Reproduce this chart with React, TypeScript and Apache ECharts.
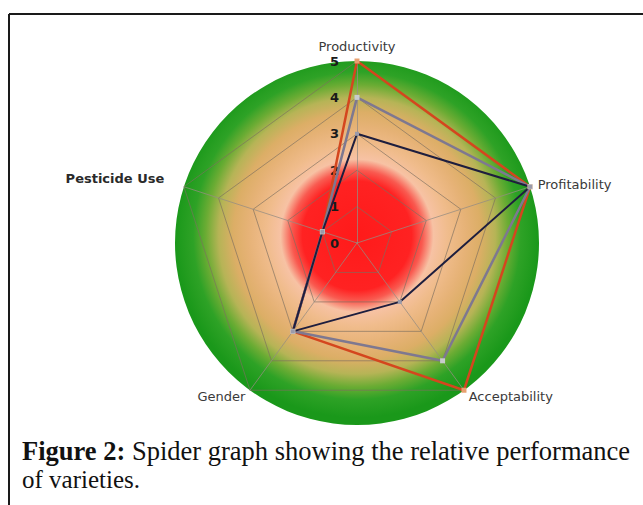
import React, { useEffect, useRef } from "react";
import * as echarts from "echarts";

const indicators = ["Productivity", "Pesticide Use", "Gender", "Acceptability", "Profitability"];
const maxValue = 5;
const seriesNames = ["Variety A", "Variety B", "Variety C"];
const varietyA = [5, 1, 3, 5, 5];
const varietyB = [4, 1, 3, 4, 5];
const varietyC = [3, 1, 3, 2, 5];
const captionBold = "Figure 2:";
const captionLine1 = " Spider graph showing the relative performance";
const captionLine2 = "of varieties.";

export default function App() {
  const ref = useRef<HTMLDivElement>(null);
  useEffect(() => {
    if (!ref.current) return;
    const chart = echarts.init(ref.current, null, { renderer: "svg" });
    const center = [357, 243];
    const radius = 182;
    const bgGradient = {
      type: "radial",
      x: 0.5,
      y: 0.48,
      r: 0.5,
      colorStops: [
        { offset: 0, color: "#ff1a1a" },
        { offset: 0.3, color: "#ff2222" },
        { offset: 0.36, color: "#f95a50" },
        { offset: 0.42, color: "#f7c2a4" },
        { offset: 0.5, color: "#f0bc8c" },
        { offset: 0.6, color: "#e6b276" },
        { offset: 0.68, color: "#dcae66" },
        { offset: 0.76, color: "#b6b456" },
        { offset: 0.83, color: "#6cac34" },
        { offset: 0.9, color: "#2ea226" },
        { offset: 1, color: "#1a981a" },
      ],
    };
    const option: any = {
      animation: false,
      backgroundColor: "#ffffff",
      radar: [
        {
          center,
          radius,
          startAngle: 90,
          shape: "circle",
          splitNumber: 1,
          indicator: indicators.map((n) => ({ name: n, max: maxValue, min: 0 })),
          axisName: { show: false },
          axisLine: { show: false },
          axisTick: { show: false },
          axisLabel: { show: false },
          splitLine: { show: false },
          splitArea: { show: true, areaStyle: { color: [bgGradient] } },
        },
        {
          center,
          radius,
          startAngle: 90,
          shape: "polygon",
          splitNumber: 5,
          nameGap: 8,
          indicator: indicators.map((n, i) => ({
            name: n,
            max: maxValue,
            min: 0,
            ...(i === 0
              ? {
                  axisLabel: {
                    show: true,
                    color: "#1a1a1a",
                    fontWeight: "bold",
                    fontSize: 13,
                    fontFamily: "DejaVu Sans",
                    margin: 18,
                  },
                }
              : {}),
          })),
          axisName: {
            color: "#3a3a3a",
            fontSize: 13,
            fontFamily: "DejaVu Sans",
            formatter: (name: string) => (name === "Pesticide Use" ? "{b|" + name + "}" : name),
            rich: {
              b: {
                fontWeight: "bold",
                fontSize: 13,
                fontFamily: "DejaVu Sans",
                color: "#2a2a2a",
                padding: [0, 12, 12, 0],
              },
            },
          },
          axisLine: { show: true, lineStyle: { color: "rgba(150,140,130,0.75)", width: 1 } },
          axisTick: { show: false },
          axisLabel: { show: false },
          splitLine: { show: true, lineStyle: { color: "rgba(125,110,95,0.65)", width: 1 } },
          splitArea: { show: false },
        },
      ],
      series: [
        {
          type: "radar",
          radarIndex: 1,
          z: 3,
          data: [
            {
              name: seriesNames[0],
              value: varietyA,
              symbol: "rect",
              symbolSize: 5,
              lineStyle: { color: "#d4461e", width: 2.5 },
              itemStyle: { color: "#e8a070" },
            },
            {
              name: seriesNames[1],
              value: varietyB,
              symbol: "rect",
              symbolSize: 5,
              lineStyle: { color: "#7e7890", width: 2.5 },
              itemStyle: { color: "#c8cccc" },
            },
            {
              name: seriesNames[2],
              value: varietyC,
              symbol: "rect",
              symbolSize: 4,
              lineStyle: { color: "#1e1e3e", width: 2 },
              itemStyle: { color: "#9a9aaa" },
            },
          ],
        },
      ],
      graphic: [
        { type: "line", shape: { x1: 9, y1: 14, x2: 643, y2: 14 }, style: { stroke: "#1a1a1a", lineWidth: 2 } },
        { type: "line", shape: { x1: 9, y1: 14, x2: 9, y2: 505 }, style: { stroke: "#1a1a1a", lineWidth: 2 } },
      ],
    };
    chart.setOption(option);
    return () => chart.dispose();
  }, []);
  const captionStyle: React.CSSProperties = {
    position: "absolute",
    left: 22,
    fontFamily: "'Liberation Serif', 'Times New Roman', serif",
    lineHeight: "30px",
    color: "#111",
    margin: 0,
    whiteSpace: "nowrap",
  };
  return (
    <div style={{ position: "fixed", left: 0, top: 0, width: 643, height: 505, background: "#fff" }}>
      <div ref={ref} style={{ position: "absolute", left: 0, top: 0, width: 643, height: 505 }} />
      <div style={{ ...captionStyle, top: 436, fontSize: 26.5 }}>
        <b>{captionBold}</b>
        {captionLine1}
      </div>
      <div style={{ ...captionStyle, top: 465, fontSize: 25 }}>{captionLine2}</div>
    </div>
  );
}
